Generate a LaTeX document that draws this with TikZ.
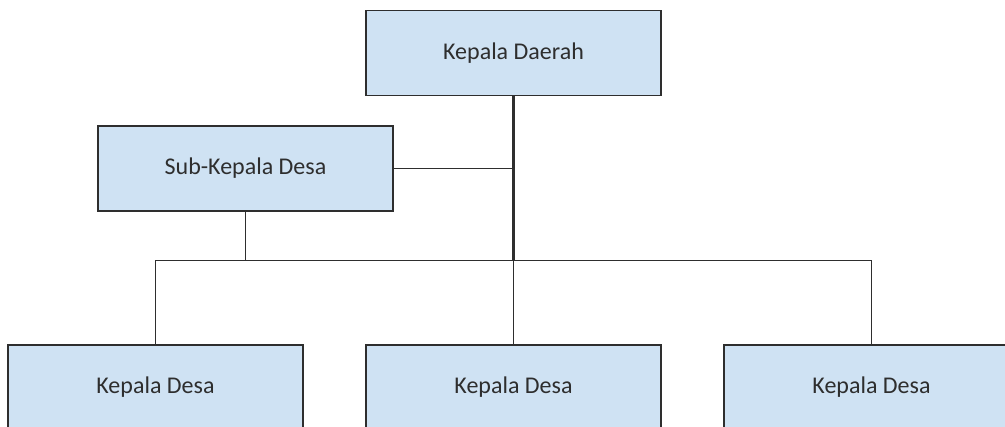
\documentclass[tikz,border=0pt]{standalone}
\usepackage{fontspec}
\setmainfont{Carlito}
\definecolor{boxfill}{HTML}{CFE2F3}
\definecolor{boxline}{HTML}{2E2E2E}
\begin{document}
\begin{tikzpicture}[x=1pt,y=-1pt,
  orgbox/.style={draw=boxline,line width=1.5pt,fill=boxfill,minimum width=295pt,minimum height=85pt,inner sep=0pt,font=\fontsize{24}{28}\selectfont,text=boxline},
  conn/.style={draw=boxline,line width=1.5pt},
  trunk/.style={draw=boxline,line width=2.5pt}]
\useasboundingbox (0,0) rectangle (1005,427);
\clip (0,0) rectangle (1005,427);
\node[orgbox] (kd) at (513.5,53) {Kepala Daerah};
\node[orgbox] (sub) at (245.5,168.5) {Sub-Kepala Desa};
\node[orgbox] (d1) at (155.5,387.5) {Kepala Desa};
\node[orgbox] (d2) at (513.5,387.5) {Kepala Desa};
\node[orgbox] (d3) at (871.5,387.5) {Kepala Desa};
\coordinate (bus) at (513.5,260.5);
\coordinate (busL) at (155.5,260.5);
\coordinate (busR) at (871.5,260.5);
\draw[trunk] (kd.south) -- (bus);
\draw[conn] (sub.east) -- (sub.east -| kd.south);
\draw[conn] (sub.south) -- (sub.south |- bus);
\draw[conn] (busL) -- (busR);
\draw[conn] (busL) -- (d1.north);
\draw[conn] (bus) -- (d2.north);
\draw[conn] (busR) -- (d3.north);
\end{tikzpicture}
\end{document}
